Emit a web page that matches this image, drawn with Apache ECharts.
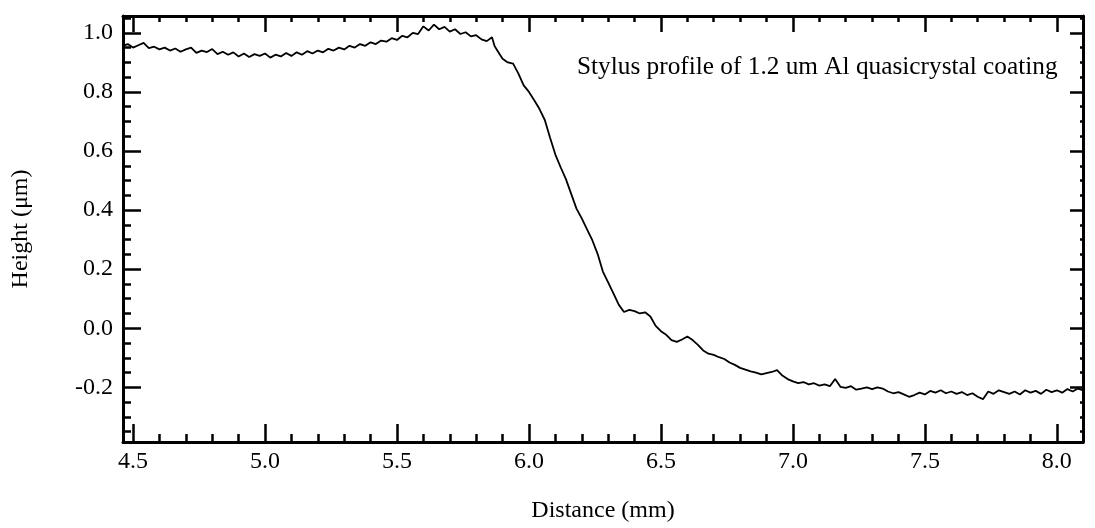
<!DOCTYPE html>
<html>
<head>
<meta charset="utf-8">
<script src="https://cdn.jsdelivr.net/npm/echarts@6/dist/echarts.min.js"></script>
<style>html,body{margin:0;padding:0;background:#fff}#c{width:1095px;height:528px}</style>
</head>
<body>
<div id="c"></div>
<script>
var distance = [4.46,4.48,4.50,4.52,4.54,4.56,4.58,4.60,4.62,4.64,4.66,4.68,4.70,4.72,4.74,4.76,4.78,4.80,4.82,4.84,4.86,4.88,4.90,4.92,4.94,4.96,4.98,5.00,5.02,5.04,5.06,5.08,5.10,5.12,5.14,5.16,5.18,5.20,5.22,5.24,5.26,5.28,5.30,5.32,5.34,5.36,5.38,5.40,5.42,5.44,5.46,5.48,5.50,5.52,5.54,5.56,5.58,5.60,5.62,5.64,5.66,5.68,5.70,5.72,5.74,5.76,5.78,5.80,5.82,5.84,5.86,5.87,5.88,5.90,5.92,5.94,5.96,5.98,6.00,6.02,6.04,6.06,6.08,6.10,6.12,6.14,6.16,6.18,6.20,6.22,6.24,6.26,6.28,6.30,6.32,6.34,6.36,6.38,6.40,6.42,6.44,6.46,6.48,6.50,6.52,6.54,6.56,6.58,6.60,6.62,6.64,6.66,6.68,6.70,6.72,6.74,6.76,6.78,6.80,6.82,6.84,6.86,6.88,6.90,6.92,6.94,6.96,6.98,7.00,7.02,7.04,7.06,7.08,7.10,7.12,7.14,7.16,7.18,7.20,7.22,7.24,7.26,7.28,7.30,7.32,7.34,7.36,7.38,7.40,7.42,7.44,7.46,7.48,7.50,7.52,7.54,7.56,7.58,7.60,7.62,7.64,7.66,7.68,7.70,7.72,7.74,7.76,7.78,7.80,7.82,7.84,7.86,7.88,7.90,7.92,7.94,7.96,7.98,8.00,8.02,8.04,8.06,8.08,8.10];
var height = [0.955,0.962,0.950,0.958,0.966,0.948,0.953,0.944,0.950,0.940,0.947,0.936,0.944,0.950,0.932,0.940,0.935,0.945,0.928,0.936,0.926,0.934,0.920,0.930,0.918,0.928,0.922,0.930,0.916,0.926,0.920,0.932,0.922,0.934,0.926,0.938,0.930,0.940,0.934,0.946,0.940,0.950,0.944,0.956,0.950,0.962,0.956,0.968,0.962,0.974,0.970,0.982,0.976,0.990,0.985,1.000,0.996,1.022,1.008,1.028,1.012,1.020,1.004,1.012,0.996,1.002,0.988,0.992,0.978,0.972,0.985,0.955,0.940,0.912,0.900,0.896,0.862,0.822,0.800,0.772,0.742,0.705,0.645,0.588,0.545,0.505,0.455,0.405,0.372,0.335,0.298,0.252,0.192,0.155,0.118,0.080,0.055,0.062,0.058,0.050,0.054,0.040,0.008,-0.010,-0.022,-0.040,-0.046,-0.038,-0.028,-0.040,-0.056,-0.075,-0.086,-0.090,-0.098,-0.104,-0.116,-0.124,-0.134,-0.140,-0.146,-0.150,-0.156,-0.152,-0.148,-0.142,-0.160,-0.172,-0.180,-0.186,-0.182,-0.190,-0.186,-0.194,-0.190,-0.196,-0.172,-0.198,-0.202,-0.196,-0.208,-0.204,-0.200,-0.206,-0.200,-0.204,-0.214,-0.220,-0.216,-0.224,-0.232,-0.226,-0.218,-0.224,-0.212,-0.218,-0.210,-0.220,-0.214,-0.222,-0.216,-0.226,-0.220,-0.232,-0.240,-0.214,-0.222,-0.210,-0.216,-0.222,-0.214,-0.224,-0.210,-0.218,-0.212,-0.222,-0.208,-0.216,-0.210,-0.218,-0.206,-0.214,-0.204,-0.210];
var xMajorTicks = [4.5,5.0,5.5,6.0,6.5,7.0,7.5,8.0];
var xMinorTicks = [4.6,4.7,4.8,4.9,5.1,5.2,5.3,5.4,5.6,5.7,5.8,5.9,6.1,6.2,6.3,6.4,6.6,6.7,6.8,6.9,7.1,7.2,7.3,7.4,7.6,7.7,7.8,7.9,8.1];
var yMajorTicks = [-0.2,0.0,0.2,0.4,0.6,0.8,1.0];
var yMinorTicks = [-0.35,-0.3,-0.25,-0.15,-0.1,-0.05,0.05,0.1,0.15,0.25,0.3,0.35,0.45,0.5,0.55,0.65,0.7,0.75,0.85,0.9,0.95,1.05];
var titleText = 'Stylus profile of 1.2 um Al quasicrystal coating';
var xName = 'Distance (mm)';
var yName = 'Height (μm)';

var FONT = 'Liberation Serif';
var XMIN = 4.462, XMAX = 8.099, YMIN = -0.385, YMAX = 1.057;
function xAx(pos, ticks, len, showLine, showLabel) {
  return {
    type: 'value', position: pos, min: XMIN, max: XMAX,
    axisLine: {show: showLine, onZero: false, lineStyle: {color: '#000', width: 3}},
    axisTick: {show: true, inside: true, length: len, customValues: ticks, lineStyle: {color: '#000', width: 2.5}},
    axisLabel: showLabel ? {show: true, customValues: ticks, formatter: function(v){return v.toFixed(1);}, color: '#000', fontFamily: FONT, fontSize: 24, margin: 8} : {show: false},
    splitLine: {show: false}
  };
}
function yAx(pos, ticks, len, showLine, showLabel) {
  return {
    type: 'value', position: pos, min: YMIN, max: YMAX,
    axisLine: {show: showLine, onZero: false, lineStyle: {color: '#000', width: 3}},
    axisTick: {show: true, inside: true, length: len, customValues: ticks, lineStyle: {color: '#000', width: 2.5}},
    axisLabel: showLabel ? {show: true, customValues: ticks, formatter: function(v){return v.toFixed(1);}, color: '#000', fontFamily: FONT, fontSize: 24, margin: 10} : {show: false},
    splitLine: {show: false}
  };
}
var xAxes = [xAx('bottom', xMajorTicks, 18, true, true), xAx('bottom', xMinorTicks, 8, false, false), xAx('top', xMajorTicks, 16, true, false), xAx('top', xMinorTicks, 6, false, false)];
xAxes[0].name = xName; xAxes[0].nameLocation = 'middle'; xAxes[0].nameGap = 57;
xAxes[0].nameTextStyle = {color: '#000', fontFamily: FONT, fontSize: 24};
var yAxes = [yAx('left', yMajorTicks, 18, true, true), yAx('left', yMinorTicks, 8, false, false), yAx('right', yMajorTicks, 13, true, false), yAx('right', yMinorTicks, 3, false, false)];
yAxes[0].name = yName; yAxes[0].nameLocation = 'middle'; yAxes[0].nameGap = 90;
yAxes[0].nameTextStyle = {color: '#000', fontFamily: FONT, fontSize: 24};

var points = distance.map(function(d, i){ return [d, height[i]]; });
var chart = echarts.init(document.getElementById('c'), null, {renderer: 'canvas'});
chart.setOption({
  backgroundColor: '#fff',
  animation: false,
  title: {text: titleText, left: 572, top: 50, textStyle: {color: '#000', fontFamily: FONT, fontSize: 25.3, fontWeight: 'normal'}},
  grid: {left: 123, right: 12, top: 16, bottom: 85, containLabel: false},
  xAxis: xAxes,
  yAxis: yAxes,
  series: [{type: 'line', xAxisIndex: 0, yAxisIndex: 0, data: points, showSymbol: false, symbol: 'none', lineStyle: {color: '#000', width: 1.8}}]
});
</script>
</body>
</html>
